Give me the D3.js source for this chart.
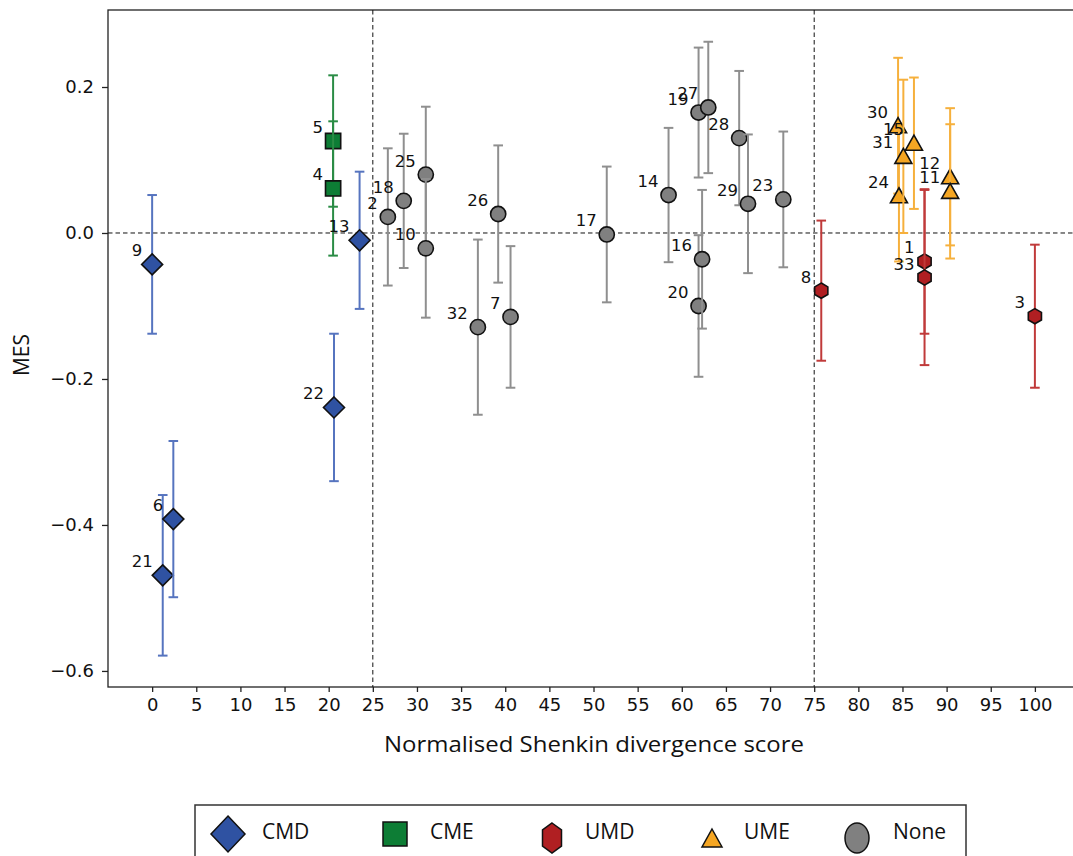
<!DOCTYPE html>
<html lang="en">
	<head>
		<meta charset="UTF-8" />
		<title>MES vs Shenkin divergence</title>
		<script src="https://d3js.org/d3.v7.min.js"></script>
		<style>
			body { margin: 0; background: #fff; }
		</style>
	</head>
	<body></body>

	<script>
		var categories = ["CMD", "CME", "UMD", "UME", "None"];

		var pointIds = [9, 21, 6, 22, 13, 5, 4, 2, 18, 25, 10, 32, 26, 7, 17, 14, 19, 20, 16, 27, 28, 29, 23, 8, 1, 33, 3, 30, 24, 31, 15, 12, 11];
		var pointCats = ["CMD", "CMD", "CMD", "CMD", "CMD", "CME", "CME",
			"None", "None", "None", "None", "None", "None", "None", "None", "None", "None", "None", "None", "None", "None", "None", "None",
			"UMD", "UMD", "UMD", "UMD", "UME", "UME", "UME", "UME", "UME", "UME"];
		var scores = [0.0, 1.2, 2.4, 20.6, 23.5, 20.5, 20.5,
			26.7, 28.5, 31.0, 31.0, 36.9, 39.2, 40.6, 51.5, 58.5, 61.9, 61.9, 62.3, 63.0, 66.5, 67.5, 71.5,
			75.8, 87.5, 87.5, 100.0, 84.5, 84.6, 85.1, 86.3, 90.4, 90.4];
		var mes = [-0.043, -0.469, -0.392, -0.239, -0.010, 0.126, 0.061,
			0.022, 0.044, 0.080, -0.021, -0.129, 0.026, -0.115, -0.002, 0.052, 0.165, -0.100, -0.036, 0.172, 0.130, 0.040, 0.046,
			-0.079, -0.039, -0.061, -0.114, 0.147, 0.051, 0.105, 0.123, 0.077, 0.057];
		var errs = [0.095, 0.110, 0.107, 0.101, 0.094, 0.090, 0.092,
			0.094, 0.092, 0.093, 0.095, 0.120, 0.094, 0.097, 0.093, 0.092, 0.089, 0.097, 0.095, 0.090, 0.092, 0.095, 0.093,
			0.096, 0.099, 0.120, 0.098, 0.093, 0.090, 0.105, 0.090, 0.094, 0.092];

		var xTicks = d3.range(0, 101, 5);
		var yTicks = [-0.6, -0.4, -0.2, 0.0, 0.2];
		var guideX = [25, 75];

		var fills = { CMD: "#2f52a2", CME: "#0d7d35", UMD: "#b01f22", UME: "#f5a623", None: "#808080" };
		var barColors = { CMD: "#5674bf", CME: "#2a8c45", UMD: "#c03a3a", UME: "#f6b03c", None: "#8f8f8f" };

		var datas = pointIds.map((id, i) => ({ id: id, cat: pointCats[i], x: scores[i], y: mes[i], e: errs[i] }));

		var width = 1073, height = 856;
		var plot = { left: 108, top: 10, bottom: 687 };

		var xScale = d3.scaleLinear().domain([-5, 105]).range([plot.left, plot.left + 110 * 8.8275]);
		var yScale = d3.scaleLinear().domain([-0.622, 0.3055]).range([plot.bottom, plot.top]);

		var svg = d3.select("body")
			.append("svg")
			.attr("width", width)
			.attr("height", height);

		var tickFont = "DejaVu Sans, sans-serif";
		var narrowFont = "'Liberation Sans Narrow', 'Open Sans', sans-serif";

		// frame
		svg.append("rect")
			.attr("x", plot.left)
			.attr("y", plot.top)
			.attr("width", xScale(105) - plot.left)
			.attr("height", plot.bottom - plot.top)
			.attr("fill", "none")
			.attr("stroke", "#222")
			.attr("stroke-width", 1.3);

		var xAxis = d3.axisBottom(xScale).tickValues(xTicks).tickSize(5).tickPadding(6);
		var gx = svg.append("g")
			.attr("transform", "translate(0," + plot.bottom + ")")
			.call(xAxis);
		gx.select(".domain").remove();

		var yAxis = d3.axisLeft(yScale).tickValues(yTicks).tickSize(6).tickPadding(8).tickFormat(d3.format(".1f"));
		var gy = svg.append("g")
			.attr("transform", "translate(" + plot.left + ",0)")
			.call(yAxis);
		gy.select(".domain").remove();

		svg.selectAll(".tick line").attr("stroke", "#222").attr("stroke-width", 1.3);
		svg.selectAll(".tick text")
			.attr("fill", "#111")
			.attr("font-family", tickFont)
			.attr("font-size", 18);

		// dashed guides
		svg.append("line")
			.attr("x1", plot.left)
			.attr("x2", width)
			.attr("y1", yScale(0))
			.attr("y2", yScale(0))
			.attr("stroke", "#111")
			.attr("stroke-width", 1)
			.attr("stroke-dasharray", "4.5,3");

		svg.selectAll(".guide")
			.data(guideX)
			.enter()
			.append("line")
			.attr("x1", d => xScale(d))
			.attr("x2", d => xScale(d))
			.attr("y1", plot.top)
			.attr("y2", plot.bottom)
			.attr("stroke", "#111")
			.attr("stroke-width", 1)
			.attr("stroke-dasharray", "4.5,3");

		function markerPath(cat) {
			if (cat === "CMD") return "M0,-10.5L10.5,0L0,10.5L-10.5,0Z";
			if (cat === "CME") return "M-7.6,-7.6h15.2v15.2h-15.2Z";
			if (cat === "UME") return "M0,-8L8.5,7L-8.5,7Z";
			if (cat === "UMD") {
				var r = 7.6;
				return d3.range(6).map((k, i) => {
					var a = -Math.PI / 2 + k * Math.PI / 3;
					return (i ? "L" : "M") + (r * Math.cos(a)) + "," + (r * Math.sin(a));
				}).join("") + "Z";
			}
			return null;
		}

		var pts = svg.selectAll(".pt")
			.data(datas)
			.enter()
			.append("g")
			.attr("class", "pt");

		pts.append("line")
			.attr("x1", d => xScale(d.x))
			.attr("x2", d => xScale(d.x))
			.attr("y1", d => yScale(d.y + d.e))
			.attr("y2", d => yScale(d.y - d.e))
			.attr("stroke", d => barColors[d.cat])
			.attr("stroke-width", 2);

		[1, -1].forEach(sign => {
			pts.append("line")
				.attr("x1", d => xScale(d.x) - 4.8)
				.attr("x2", d => xScale(d.x) + 4.8)
				.attr("y1", d => yScale(d.y + sign * d.e))
				.attr("y2", d => yScale(d.y + sign * d.e))
				.attr("stroke", d => barColors[d.cat])
				.attr("stroke-width", 2);
		});

		pts.each(function (d) {
			var g = d3.select(this);
			var cx = xScale(d.x), cy = yScale(d.y);
			if (d.cat === "None") {
				g.append("circle")
					.attr("cx", cx)
					.attr("cy", cy)
					.attr("r", 7.6)
					.attr("fill", fills[d.cat])
					.attr("stroke", "#111")
					.attr("stroke-width", 1.6);
			} else {
				g.append("path")
					.attr("transform", "translate(" + cx + "," + cy + ")")
					.attr("d", markerPath(d.cat))
					.attr("fill", fills[d.cat])
					.attr("stroke", "#111")
					.attr("stroke-width", 1.6);
			}
		});

		svg.selectAll(".lbl")
			.data(datas)
			.enter()
			.append("text")
			.attr("x", d => xScale(d.x) - 10)
			.attr("y", d => yScale(d.y) - 8)
			.attr("text-anchor", "end")
			.attr("font-family", tickFont)
			.attr("font-size", 16.5)
			.attr("fill", "#111")
			.text(d => d.id);

		// axis titles
		svg.append("text")
			.attr("x", 594)
			.attr("y", 752)
			.attr("text-anchor", "middle")
			.attr("font-family", narrowFont)
			.attr("font-size", 22)
			.attr("textLength", 420)
			.attr("lengthAdjust", "spacingAndGlyphs")
			.attr("fill", "#111")
			.text("Normalised Shenkin divergence score");

		svg.append("text")
			.attr("transform", "translate(29,355) rotate(-90)")
			.attr("text-anchor", "middle")
			.attr("font-family", narrowFont)
			.attr("font-size", 21)
			.attr("fill", "#111")
			.text("MES");

		// legend
		var legendX = [228, 395, 552, 712, 857];
		var legend = svg.append("g");
		legend.append("rect")
			.attr("x", 195)
			.attr("y", 805)
			.attr("width", 771)
			.attr("height", 70)
			.attr("fill", "#fff")
			.attr("stroke", "#333")
			.attr("stroke-width", 1.5);

		var items = legend.selectAll(".item")
			.data(categories)
			.enter()
			.append("g")
			.attr("transform", (d, i) => "translate(" + legendX[i] + ",834)");

		items.each(function (d) {
			var g = d3.select(this);
			if (d === "None") {
				g.append("ellipse").attr("cy", 4).attr("rx", 12).attr("ry", 15)
					.attr("fill", fills[d]).attr("stroke", "#111").attr("stroke-width", 1.5);
			} else if (d === "CMD") {
				g.append("path").attr("d", "M0,-18L17,0L0,18L-17,0Z")
					.attr("fill", fills[d]).attr("stroke", "#111").attr("stroke-width", 1.5);
			} else if (d === "CME") {
				g.append("path").attr("d", "M-12,-12h24v24h-24Z")
					.attr("fill", fills[d]).attr("stroke", "#111").attr("stroke-width", 1.5);
			} else if (d === "UMD") {
				g.append("path").attr("d", "M0,-15L9.5,-8V8L0,15L-9.5,8V-8Z")
					.attr("transform", "translate(0,4)")
					.attr("fill", fills[d]).attr("stroke", "#111").attr("stroke-width", 1.5);
			} else {
				g.append("path").attr("d", "M0,-8L10,10L-10,10Z")
					.attr("transform", "translate(0,3)")
					.attr("fill", fills[d]).attr("stroke", "#111").attr("stroke-width", 1.5);
			}
		});

		items.append("text")
			.attr("x", (d, i) => [34, 35, 33, 32, 36][i])
			.attr("y", -2)
			.attr("dy", "0.35em")
			.attr("font-family", narrowFont)
			.attr("font-size", 21)
			.attr("fill", "#111")
			.text(d => d);
	</script>
</html>
